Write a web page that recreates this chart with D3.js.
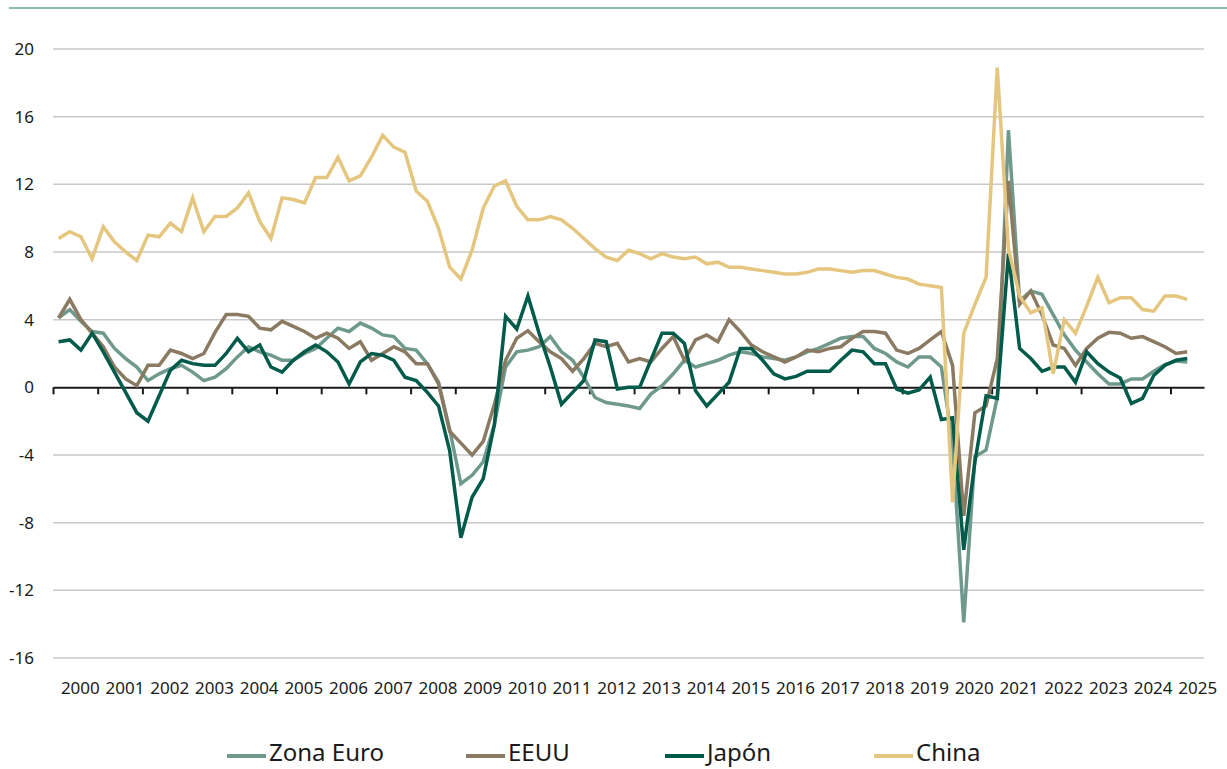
<!DOCTYPE html>
<html>
<head>
<meta charset="utf-8">
<script src="https://cdn.jsdelivr.net/npm/d3@7"></script>
<style>
	body{margin:0;background:#fff;}
	svg{display:block;font-family:"Noto Sans",sans-serif;}
</style>
</head>
<body>
<div id="chart"></div>
<script>

// quarters 2000Q1 .. 2025Q2, year/year growth (%)
const years = d3.range(2000,2026);
const quarters = d3.range(0,102);
const yTicks = [-16,-12,-8,-4,0,4,8,12,16,20];

const seriesNames = ['Zona Euro','EEUU','Japón','China'];
const seriesColors = ['#6f998d','#8b7a62','#005b4b','#e5c67e'];

const zonaEuro = [
	4.1,4.6,3.9,3.3,3.2,2.3,1.7,1.2,0.4,0.8,
	1.1,1.3,0.9,0.4,0.6,1.1,1.8,2.4,2.1,1.9,
	1.6,1.6,2.0,2.3,2.9,3.5,3.3,3.8,3.5,3.1,
	3.0,2.3,2.2,1.4,0.3,-2.5,-5.7,-5.2,-4.4,-2.2,
	1.2,2.1,2.2,2.4,3.0,2.1,1.6,0.6,-0.6,-0.9,
	-1.0,-1.1,-1.25,-0.4,0.1,0.8,1.6,1.2,1.4,1.6,
	1.9,2.1,2.0,1.8,1.7,1.6,1.8,2.1,2.3,2.6,
	2.9,3.0,3.0,2.3,2.0,1.5,1.2,1.8,1.8,1.2,
	-3.3,-13.9,-4.1,-3.7,-0.6,15.2,5.1,5.7,5.5,4.3,
	3.1,2.2,1.5,0.8,0.2,0.2,0.5,0.5,0.95,1.35,
	1.55,1.5
];

const eeuu = [
	4.1,5.2,4.0,3.2,2.4,1.2,0.5,0.1,1.3,1.3,
	2.2,2.0,1.7,2.0,3.25,4.3,4.3,4.2,3.5,3.4,
	3.9,3.6,3.3,2.9,3.2,2.9,2.3,2.7,1.6,2.0,
	2.4,2.1,1.4,1.4,0.2,-2.6,-3.3,-4.0,-3.2,-1.0,
	1.6,2.9,3.35,2.7,2.1,1.7,0.95,1.7,2.6,2.4,
	2.6,1.5,1.7,1.5,2.3,3.0,1.6,2.8,3.1,2.7,
	4.0,3.3,2.5,2.1,1.8,1.5,1.8,2.2,2.1,2.3,
	2.4,2.9,3.3,3.3,3.2,2.2,2.0,2.3,2.8,3.3,
	1.3,-7.6,-1.5,-1.1,1.7,12.2,4.9,5.7,4.3,2.5,
	2.3,1.3,2.3,2.9,3.25,3.2,2.9,3.0,2.7,2.4,
	2.0,2.1
];

const japon = [
	2.7,2.8,2.2,3.2,2.1,0.9,-0.3,-1.5,-2.0,-0.5,
	1.0,1.6,1.4,1.3,1.3,2.0,2.9,2.1,2.5,1.2,
	0.9,1.6,2.1,2.5,2.1,1.5,0.2,1.5,2.0,1.9,
	1.6,0.6,0.4,-0.3,-1.1,-3.75,-8.9,-6.5,-5.4,-2.2,
	4.2,3.45,5.4,3.2,1.2,-1.0,-0.3,0.4,2.8,2.7,
	-0.1,0.0,0.0,1.6,3.2,3.2,2.6,-0.2,-1.1,-0.4,
	0.3,2.3,2.3,1.6,0.8,0.5,0.65,0.95,0.95,0.95,
	1.6,2.2,2.1,1.4,1.4,-0.1,-0.35,-0.15,0.6,-1.9,
	-1.8,-9.6,-4.4,-0.5,-0.65,7.9,2.3,1.7,0.95,1.2,
	1.2,0.3,2.1,1.4,0.9,0.55,-0.95,-0.65,0.7,1.3,
	1.6,1.7
];

const china = [
	8.8,9.2,8.9,7.6,9.5,8.6,8.0,7.5,9.0,8.9,
	9.7,9.2,11.2,9.2,10.1,10.1,10.6,11.5,9.8,8.8,
	11.2,11.1,10.9,12.4,12.4,13.6,12.2,12.5,13.6,14.9,
	14.2,13.9,11.6,11.0,9.4,7.1,6.4,8.1,10.6,11.9,
	12.2,10.7,9.9,9.9,10.1,9.9,9.4,8.8,8.2,7.7,
	7.5,8.1,7.9,7.6,7.9,7.7,7.6,7.7,7.3,7.4,
	7.1,7.1,7.0,6.9,6.8,6.7,6.7,6.8,7.0,7.0,
	6.9,6.8,6.9,6.9,6.7,6.5,6.4,6.1,6.0,5.9,
	-6.8,3.2,4.9,6.5,18.9,8.2,5.4,4.4,4.7,0.8,
	4.0,3.2,4.8,6.5,5.0,5.3,5.3,4.6,4.5,5.4,
	5.4,5.2
];

const seriesValues = [zonaEuro,eeuu,japon,china];

const W = 1227, H = 769;
const _m = {t:49, r:23, l:53, b:111};

const _svg = d3.select('#chart').append('svg')
	.attr('width',W)
	.attr('height',H);

// top rule
_svg.append('line')
	.attr('x1',9).attr('x2',W)
	.attr('y1',8).attr('y2',8)
	.style('stroke','#8dbab2')
	.style('stroke-width','2px');

const _scaleX = d3.scaleLinear().domain([-0.5,102.5]).range([_m.l,W-_m.r]),
	_scaleY = d3.scaleLinear().domain([-16,20]).range([H-_m.b,_m.t]);

// gridlines
_svg.append('g').attr('class','grid')
	.selectAll('line')
	.data(yTicks.filter(d=>d!==0))
	.enter()
	.append('line')
	.attr('x1',_scaleX.range()[0])
	.attr('x2',_scaleX.range()[1])
	.attr('y1',d=>_scaleY(d))
	.attr('y2',d=>_scaleY(d))
	.style('stroke','#c9c9c9')
	.style('stroke-width','1.5px');

// y labels
_svg.append('g').attr('class','y-labels')
	.selectAll('text')
	.data(yTicks)
	.enter()
	.append('text')
	.attr('x',34)
	.attr('y',d=>_scaleY(d))
	.attr('dy','0.35em')
	.attr('text-anchor','end')
	.style('font-size','17px')
	.style('fill','#1a1a1a')
	.text(d=>d);

// x axis on zero, ticks every 4 quarters
const axisX = d3.axisBottom(_scaleX)
	.tickValues(d3.range(0,26).map(k=>4*k-0.5))
	.tickSize(7)
	.tickSizeOuter(0)
	.tickFormat('');
const gx = _svg.append('g').attr('class','x-axis')
	.attr('transform',`translate(0,${_scaleY(0)})`)
	.call(axisX);
gx.select('.domain').style('stroke','#1a1a1a').style('stroke-width','2px');
gx.selectAll('.tick line').style('stroke','#1a1a1a').style('stroke-width','2px');

// year labels
_svg.append('g').attr('class','x-labels')
	.selectAll('text')
	.data(years)
	.enter()
	.append('text')
	.attr('x',(d,i)=>_scaleX(4*i+1.5)+5)
	.attr('y',_scaleY(-16)+36)
	.attr('text-anchor','middle')
	.style('font-size','17px')
	.style('fill','#1a1a1a')
	.text(d=>d);

// lines
const line = d3.line()
	.x((d,i)=>_scaleX(quarters[i]))
	.y(d=>_scaleY(d));

_svg.append('g').attr('class','series')
	.selectAll('path')
	.data(seriesValues)
	.enter()
	.append('path')
	.attr('d',d=>line(d))
	.style('fill','none')
	.style('stroke',(d,i)=>seriesColors[i])
	.style('stroke-width','3.5px')
	.style('stroke-linejoin','miter');

// legend
const legendX = [227,466,665,874];
const legend = _svg.append('g').attr('class','legend')
	.selectAll('g')
	.data(seriesNames)
	.enter()
	.append('g')
	.attr('transform',(d,i)=>`translate(${legendX[i]},0)`);
legend.append('line')
	.attr('x1',0).attr('x2',39)
	.attr('y1',756).attr('y2',756)
	.style('stroke',(d,i)=>seriesColors[i])
	.style('stroke-width','4px');
legend.append('text')
	.attr('x',42)
	.attr('y',761)
	.style('font-size','24px')
	.style('fill','#1a1a1a')
	.text(d=>d);

</script>
</body>
</html>
